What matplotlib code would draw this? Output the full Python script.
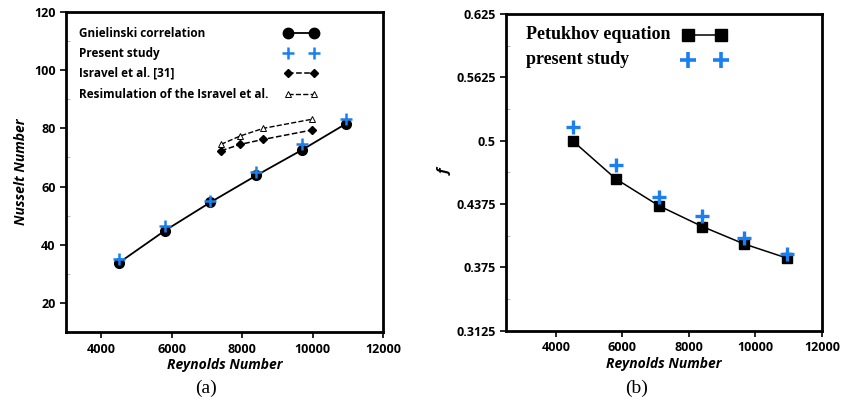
import numpy as np
import matplotlib.pyplot as plt
from matplotlib.ticker import MultipleLocator, FixedLocator

# %% data
re_a = [4500, 5800, 7100, 8400, 9700, 10950]
nu_gnielinski = [33.8, 44.8, 54.6, 63.8, 72.6, 81.6]
nu_present = [35.2, 46.4, 55.2, 64.9, 74.7, 83.1]
re_isravel = [7400, 7950, 8600, 9970]
nu_isravel = [72.3, 74.5, 76.2, 79.4]
nu_resim = [74.5, 77.4, 80.0, 83.1]

re_b = [4500, 5800, 7100, 8400, 9650, 10950]
f_petukhov = [0.500, 0.4624, 0.4358, 0.4154, 0.3983, 0.3842]
f_present = [0.5134, 0.4762, 0.4444, 0.4259, 0.4039, 0.3881]

f_ticks = [0.3125, 0.375, 0.4375, 0.5, 0.5625, 0.625]
f_ticklabels = ["0.3125", "0.375", "0.4375", "0.5", "0.5625", "0.625"]

blue = "#1a7ff0"
sans = "Open Sans"
serif = "Liberation Serif"


def key_row(ax, y, label, x_text, x0, x1, font, **style):
    # legend row: text left-aligned, sample line with a marker at both ends
    ax.text(x_text, y, label, transform=ax.transAxes, va="center", ha="left", **font)
    ax.plot([x0, x1], [y, y], transform=ax.transAxes, clip_on=False, **style)


fig = plt.figure(figsize=(8.41, 4.11), dpi=100)
ax1 = fig.add_axes([0.0785, 0.192, 0.377, 0.779])
ax2 = fig.add_axes([0.6017, 0.195, 0.3757, 0.771])

for ax in (ax1, ax2):
    for s in ax.spines.values():
        s.set_linewidth(2.0)
    ax.tick_params(direction="out", width=1.2, length=4, labelsize=9)
    ax.tick_params(which="minor", direction="in", length=3, width=0.8, color="#bbbbbb")

# %% (a) Nusselt
ax1.plot(re_a, nu_gnielinski, "-", color="black", lw=1.3, marker="o", ms=7)
ax1.plot(re_a, nu_present, ls="none", marker="+", color=blue, ms=8, mew=1.8)
ax1.plot(re_isravel, nu_isravel, "--", color="black", lw=1.1, marker="D", ms=4)
ax1.plot(re_isravel, nu_resim, "--", color="black", lw=1.0, marker="^", ms=5,
         mfc="white", mew=0.7)
ax1.set_xlim(3000, 12000)
ax1.set_ylim(10, 120)
ax1.xaxis.set_major_locator(FixedLocator([4000, 6000, 8000, 10000, 12000]))
ax1.yaxis.set_major_locator(FixedLocator([20, 40, 60, 80, 100, 120]))
ax1.yaxis.set_minor_locator(MultipleLocator(10))
ax1.set_xlabel("Reynolds Number", fontfamily=sans, fontweight="bold",
               fontstyle="italic", fontsize=10, labelpad=2)
ax1.set_ylabel("Nusselt Number", fontfamily=sans, fontweight="bold",
               fontstyle="italic", fontsize=10, labelpad=4)

font_a = {"fontfamily": sans, "fontweight": "bold", "fontsize": 8.5}
key_row(ax1, 0.933, "Gnielinski correlation", 0.042, 0.699, 0.783, font_a,
        color="black", lw=1.3, marker="o", ms=7.5)
key_row(ax1, 0.871, "Present study", 0.042, 0.699, 0.783, font_a,
        ls="none", color=blue, marker="+", ms=8, mew=1.8)
key_row(ax1, 0.808, "Isravel et al. [31]", 0.042, 0.699, 0.783, font_a,
        color="black", ls="--", lw=1.1, marker="D", ms=4)
key_row(ax1, 0.743, "Resimulation of the Isravel et al.", 0.042, 0.699, 0.783, font_a,
        color="black", ls="--", lw=1.0, marker="^", ms=5, mfc="white", mew=0.7)

# %% (b) friction factor
ax2.plot(re_b, f_petukhov, "-", color="black", lw=1.1, marker="s", ms=7)
ax2.plot(re_b, f_present, ls="none", marker="+", color=blue, ms=10, mew=2.4)
ax2.set_xlim(2500, 12000)
ax2.set_ylim(0.3125, 0.625)
ax2.xaxis.set_major_locator(FixedLocator([4000, 6000, 8000, 10000, 12000]))
ax2.set_yticks(f_ticks)
ax2.set_yticklabels(f_ticklabels)
ax2.yaxis.set_minor_locator(MultipleLocator(0.03125))
ax2.set_xlabel("Reynolds Number", fontfamily=sans, fontweight="bold",
               fontstyle="italic", fontsize=10, labelpad=2)
ax2.set_ylabel("f", fontfamily=sans, fontweight="bold", fontstyle="italic",
               fontsize=11, labelpad=0)
ax2.yaxis.set_label_coords(-0.17, 0.5)

font_b = {"fontfamily": serif, "fontweight": "bold", "fontsize": 13}
key_row(ax2, 0.934, "Petukhov equation", 0.063, 0.577, 0.680, font_b,
        color="black", lw=1.1, marker="s", ms=8)
key_row(ax2, 0.855, "present study", 0.063, 0.577, 0.680, font_b,
        ls="none", color=blue, marker="+", ms=11, mew=2.6)

for ax in (ax1, ax2):
    for lab in ax.get_xticklabels() + ax.get_yticklabels():
        lab.set_fontfamily(sans)
        lab.set_fontweight("bold")

fig.text(0.2444, 0.045, "(a)", fontfamily=serif, fontsize=14, ha="center")
fig.text(0.7574, 0.045, "(b)", fontfamily=serif, fontsize=14, ha="center")

plt.savefig("out.png", dpi=100)
